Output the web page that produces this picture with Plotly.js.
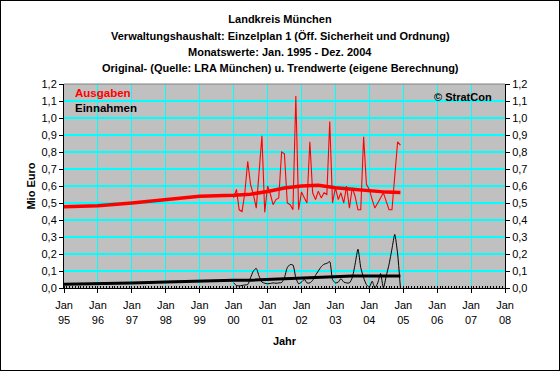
<!DOCTYPE html>
<html>
<head>
<meta charset="utf-8">
<script src="https://cdn.plot.ly/plotly-3.0.1.min.js"></script>
<style>
html,body{margin:0;padding:0;background:#fff;}
#chart{width:560px;height:371px;box-sizing:border-box;border:1px solid #000;}
</style>
</head>
<body>
<div id="chart"></div>
<script>
// Monthly original values Jan 2000 - Dec 2004 (Mio Euro)
const ausgabenValues = [
  0.53,0.58,0.46,0.45,0.56,0.745,0.61,0.55,0.47,0.67,0.895,0.445,
  0.60,0.55,0.49,0.52,0.53,0.80,0.79,0.50,0.49,0.46,1.13,0.46,
  0.565,0.53,0.50,0.86,0.56,0.52,0.57,0.53,0.56,0.55,0.98,0.50,
  0.59,0.52,0.56,0.50,0.60,0.47,0.59,0.54,0.46,0.46,0.89,0.61,
  0.58,0.52,0.47,0.50,0.53,0.56,0.51,0.46,0.46,0.66,0.86,0.84
];
const einnahmenValues = [
  0.03,0.015,0.012,0.015,0.018,0.02,0.06,0.10,0.115,0.07,0.035,0.028,
  0.025,0.027,0.03,0.028,0.03,0.032,0.06,0.12,0.138,0.135,0.06,0.025,
  0.035,0.05,0.03,0.03,0.045,0.075,0.10,0.125,0.14,0.145,0.155,0.05,
  0.03,0.035,0.055,0.035,0.03,0.03,0.06,0.14,0.228,0.12,0.06,0.02,
  0.005,0.04,0.0,0.03,0.085,0.0,0.07,0.14,0.23,0.315,0.2,0.0
];
// Trend values (eigene Berechnung)
const trendDates = ['1995-01-01','1996-01-01','1997-01-01','1998-01-01','1999-01-01',
  '2000-01-01','2000-07-01','2001-01-01','2001-07-01','2002-01-01','2002-07-01',
  '2003-01-01','2003-07-01','2004-01-01','2004-07-01','2004-12-01'];
const ausgabenTrend = [0.478,0.484,0.50,0.52,0.54,0.546,0.552,0.568,0.588,0.600,0.605,0.590,0.580,0.575,0.564,0.562];
const einnahmenTrend = [0.022,0.025,0.03,0.036,0.042,0.045,0.046,0.05,0.054,0.058,0.066,0.069,0.07,0.07,0.071,0.071];
// Axis ticks
const yearTicks = ['1995-01-01','1996-01-01','1997-01-01','1998-01-01','1999-01-01','2000-01-01',
  '2001-01-01','2002-01-01','2003-01-01','2004-01-01','2005-01-01','2006-01-01','2007-01-01','2008-01-01'];
const yearTickLabels = ['Jan<br>95','Jan<br>96','Jan<br>97','Jan<br>98','Jan<br>99','Jan<br>00',
  'Jan<br>01','Jan<br>02','Jan<br>03','Jan<br>04','Jan<br>05','Jan<br>06','Jan<br>07','Jan<br>08'];
const yTicks = [0,0.1,0.2,0.3,0.4,0.5,0.6,0.7,0.8,0.9,1.0,1.1,1.2];
const titleLines = ['Landkreis München',
  'Verwaltungshaushalt: Einzelplan 1 (Öff. Sicherheit und Ordnung)',
  'Monatswerte: Jan. 1995 - Dez. 2004',
  'Original- (Quelle: LRA München) u. Trendwerte (eigene Berechnung)'];

const months = [];
for (let y = 2000; y <= 2004; y++) {
  for (let m = 1; m <= 12; m++) months.push(y + '-' + String(m).padStart(2,'0') + '-01');
}

const FONT = 'Liberation Sans, Arial, sans-serif';

const traces = [
  {x: months, y: einnahmenValues, type:'scatter', mode:'lines', name:'Einnahmen',
   line:{color:'#000000', width:1, shape:'spline', smoothing:0.6}, showlegend:false},
  {x: trendDates, y: einnahmenTrend, type:'scatter', mode:'lines', name:'Einnahmen Trend',
   line:{color:'#000000', width:3}, showlegend:false},
  {x: months, y: ausgabenValues, type:'scatter', mode:'lines', name:'Ausgaben',
   line:{color:'#FF0000', width:1.1}, showlegend:false},
  {x: trendDates, y: ausgabenTrend, type:'scatter', mode:'lines', name:'Ausgaben Trend',
   line:{color:'#FF0000', width:3.5}, showlegend:false},
  {x: trendDates, y: ausgabenTrend, type:'scatter', mode:'lines', yaxis:'y2',
   line:{color:'rgba(0,0,0,0)', width:0}, showlegend:false, hoverinfo:'skip'}
];

const annotations = [];
const lineY = [1.32, 1.235, 1.157, 1.078];
for (let i = 1; i < titleLines.length; i++) {
  annotations.push({text:'<b>'+titleLines[i]+'</b>', xref:'paper', yref:'paper',
    x:0.49, y:lineY[i], xanchor:'center', yanchor:'middle',
    showarrow:false, font:{family:FONT, size:11, color:'#000'}});
}
annotations.push({text:'<b>Ausgaben</b>', xref:'paper', yref:'paper', x:0.02, y:0.954,
  xanchor:'left', yanchor:'middle', showarrow:false, font:{family:FONT, size:11.5, color:'#FF0000'}});
annotations.push({text:'<b>Einnahmen</b>', xref:'paper', yref:'paper', x:0.02, y:0.883,
  xanchor:'left', yanchor:'middle', showarrow:false, font:{family:FONT, size:11.5, color:'#000000'}});
annotations.push({text:'<b>© StratCon</b>', xref:'paper', yref:'paper', x:0.975, y:0.936,
  xanchor:'right', yanchor:'middle', showarrow:false, font:{family:FONT, size:11, color:'#000000'}});

const layout = {
  width:558, height:369,
  margin:{l:63, r:54, t:83, b:82},
  paper_bgcolor:'#FFFFFF', plot_bgcolor:'#C0C0C0',
  font:{family:FONT, size:11, color:'#000'},
  separators:',.',
  showlegend:false,
  title:{text:'<b>'+titleLines[0]+'</b>', x:0.5, xref:'container', xanchor:'center',
    y:0.951, yref:'container', yanchor:'middle', font:{family:FONT, size:11, color:'#000'}},
  xaxis:{type:'date', range:['1995-01-01','2008-01-01'], tickmode:'array',
    tickvals:yearTicks, ticktext:yearTickLabels, ticks:'outside', ticklen:4, tickcolor:'#000',
    ticklabelstandoff:3,
    showgrid:true, gridcolor:'#00FFFF', gridwidth:1, showline:true, linecolor:'#000', linewidth:1,
    zeroline:false, tickfont:{family:FONT, size:11, color:'#000'},
    minor:{dtick:'M1', ticks:'inside', ticklen:2, tickcolor:'#000', showgrid:false},
    title:{text:'<b>Jahr</b>', font:{family:FONT, size:11, color:'#000'}, standoff:12}},
  yaxis:{range:[0,1.2], tickmode:'array', tickvals:yTicks, tickformat:'.1f', ticks:'outside', ticklen:4,
    tickcolor:'#000', showgrid:true, gridcolor:'#00FFFF', gridwidth:1.3, showline:true,
    linecolor:'#000', linewidth:1, zeroline:false, tickfont:{family:FONT, size:11, color:'#000'},
    title:{text:'<b>Mio Euro</b>', font:{family:FONT, size:11, color:'#000'}, standoff:3}},
  yaxis2:{range:[0,1.2], overlaying:'y', side:'right', tickmode:'array', tickvals:yTicks, tickformat:'.1f',
    ticks:'outside', ticklen:4, tickcolor:'#000', showgrid:false, showline:true,
    linecolor:'#000', linewidth:1, zeroline:false, tickfont:{family:FONT, size:11, color:'#000'}},
  shapes:[{type:'line', xref:'paper', yref:'paper', x0:0, x1:1, y0:1, y1:1,
    line:{color:'#808080', width:1}}],
  annotations: annotations
};

Plotly.newPlot('chart', traces, layout, {displayModeBar:false, staticPlot:true});
</script>
</body>
</html>
